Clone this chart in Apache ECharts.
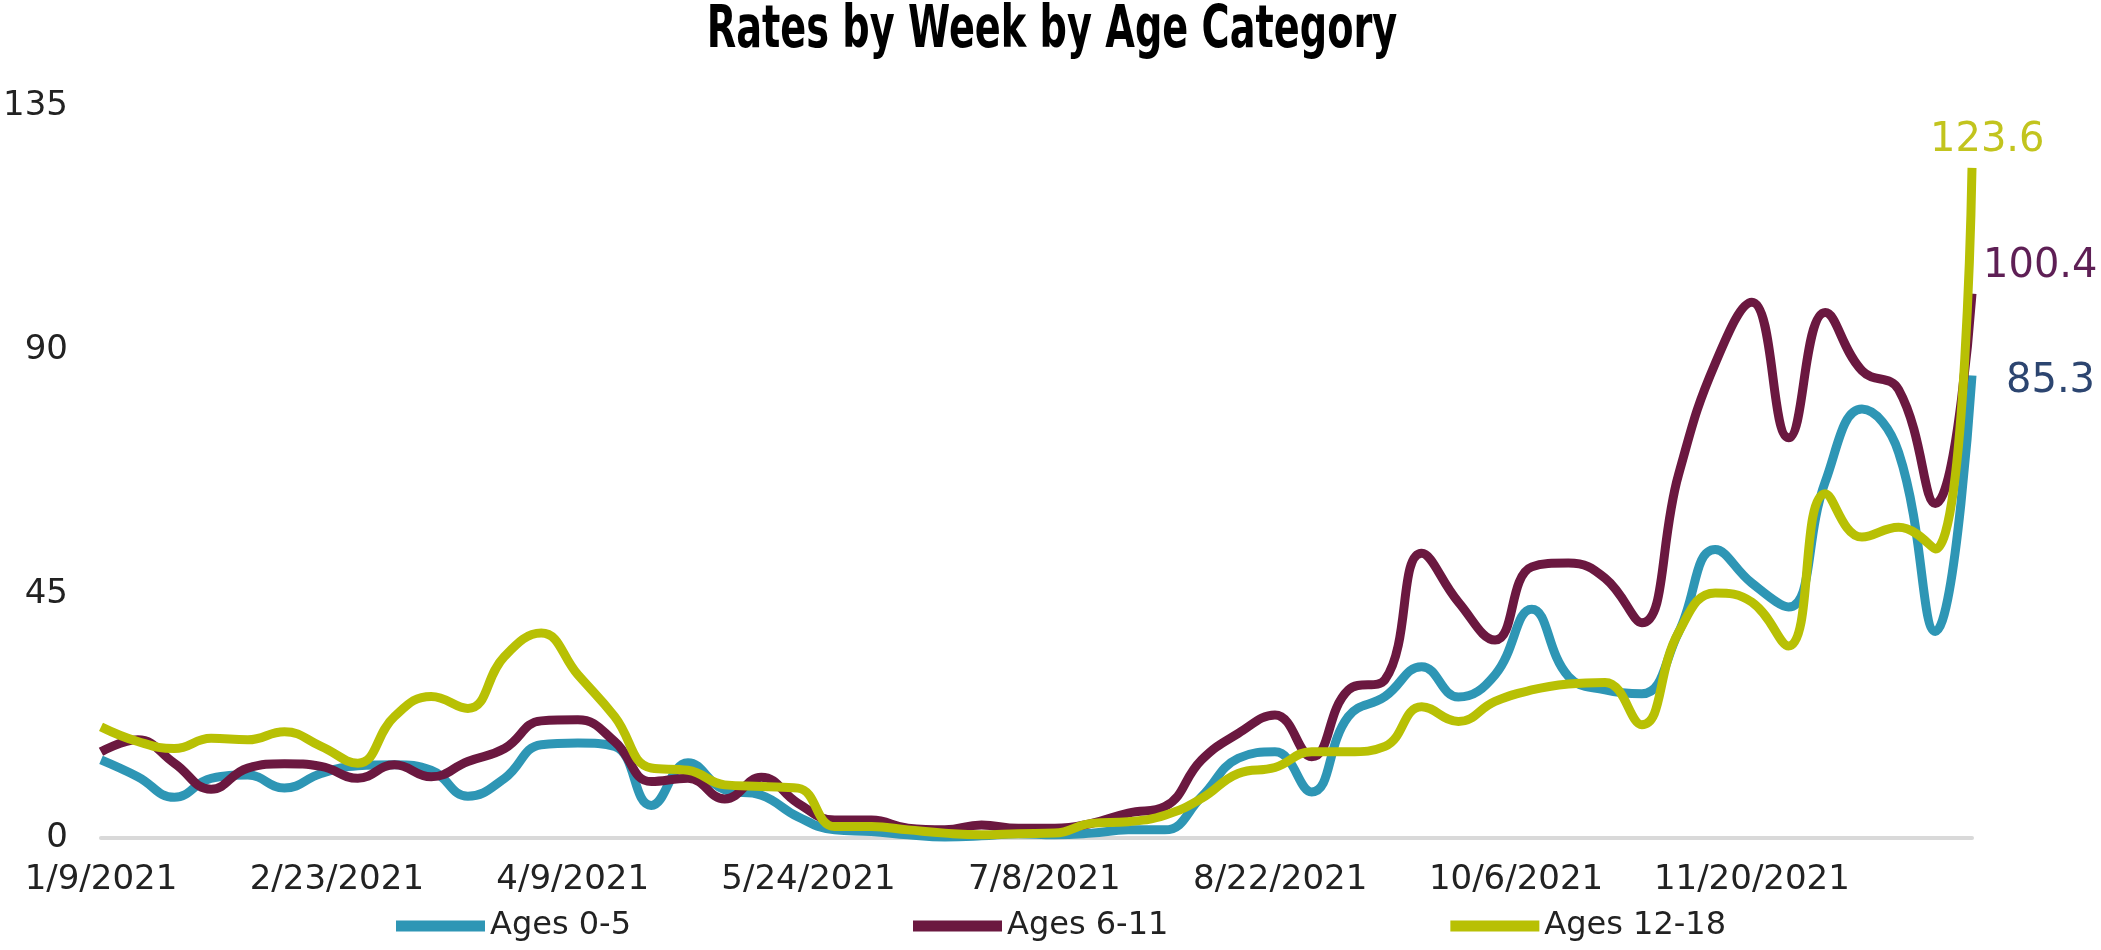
<!DOCTYPE html>
<html>
<head>
    <meta charset="utf-8">
    <title>Rates by Week by Age Category</title>
    <script src="https://cdn.jsdelivr.net/npm/echarts/dist/echarts.min.js"></script>
    <style>
        html, body { margin: 0; padding: 0; background: #fff; }
        #chart_box { width: 2101px; height: 950px; }
    </style>
</head>
<body>
    <div id="chart_box"></div>
    <script>
        // week ending dates
        var weekDates = ['1/9/2021', '1/16/2021', '1/23/2021', '1/30/2021', '2/6/2021', '2/13/2021', '2/20/2021',
            '2/27/2021', '3/6/2021', '3/13/2021', '3/20/2021', '3/27/2021', '4/3/2021', '4/10/2021', '4/17/2021',
            '4/24/2021', '5/1/2021', '5/8/2021', '5/15/2021', '5/22/2021', '5/29/2021', '6/5/2021', '6/12/2021',
            '6/19/2021', '6/26/2021', '7/3/2021', '7/10/2021', '7/17/2021', '7/24/2021', '7/31/2021', '8/7/2021',
            '8/14/2021', '8/21/2021', '8/28/2021', '9/4/2021', '9/11/2021', '9/18/2021', '9/25/2021', '10/2/2021',
            '10/9/2021', '10/16/2021', '10/23/2021', '10/30/2021', '11/6/2021', '11/13/2021', '11/20/2021',
            '11/27/2021', '12/4/2021', '12/11/2021', '12/18/2021', '12/25/2021', '1/1/2022'];

        var ages0to5 = [14.4, 11.3, 7.5, 11.0, 11.6, 9.2, 11.9, 13.3, 13.5, 12.5, 7.7, 11.0, 17.2, 17.5, 16.9, 6.0,
            13.9, 8.9, 7.9, 3.9, 1.5, 1.2, 0.6, 0.2, 0.4, 0.8, 0.6, 0.9, 1.5, 1.5, 7.6, 14.7, 15.9, 8.5, 22.4, 26.1,
            31.6, 26.0, 30.1, 42.2, 29.8, 27.3, 26.6, 37.9, 53.2, 47.0, 42.6, 65.7, 79.1, 71.1, 38.1, 85.3];
        var ages6to11 = [15.9, 18.1, 13.8, 9.0, 12.9, 13.7, 13.2, 11.0, 13.5, 11.3, 14.1, 16.5, 21.6, 21.8, 17.8, 10.4,
            11.0, 7.2, 11.2, 6.4, 3.3, 3.3, 1.8, 1.5, 2.4, 1.8, 1.8, 2.7, 4.6, 5.8, 14.4, 19.3, 22.7, 15.0, 27.3, 29.2,
            52.5, 43.5, 36.5, 50.0, 50.7, 47.9, 39.7, 67.0, 87.5, 98.8, 73.8, 96.9, 86.2, 82.7, 61.7, 100.4];
        var ages12to18 = [20.5, 17.8, 16.5, 18.4, 18.1, 19.6, 16.9, 13.8, 22.4, 26.1, 23.9, 33.5, 37.8, 30.1, 22.4, 12.9,
            12.5, 9.8, 9.5, 9.2, 2.1, 2.1, 1.5, 0.9, 0.6, 0.8, 0.9, 2.7, 3.0, 4.2, 7.3, 11.9, 13.0, 15.9, 15.9, 16.9,
            24.2, 21.5, 25.2, 27.3, 28.4, 28.7, 20.9, 37.9, 45.2, 43.5, 35.4, 63.5, 55.5, 57.3, 53.3, 123.6];

        var xTickLabels = ['1/9/2021', '2/23/2021', '4/9/2021', '5/24/2021', '7/8/2021', '8/22/2021', '10/6/2021', '11/20/2021'];
        var yTicks = [0, 45, 90, 135];

        var seriesNames = ['Ages 0-5', 'Ages 6-11', 'Ages 12-18'];
        var lineColors = ['#2E96B5', '#6B1840', '#B8C004'];
        var endLabelColors = ['#2C4570', '#5E1F55', '#C2C41E'];
        var endLabelOffsets = [[34, 6], [11, -27], [-42, -27]];

        function parseDay(s) {
            var p = s.split('/');
            return new Date(+p[2], +p[0] - 1, +p[1]);
        }
        var start = parseDay(weekDates[0]);
        var dayNums = weekDates.map(function (s) {
            return Math.round((parseDay(s) - start) / 86400000);
        });
        var lastDay = dayNums[dayNums.length - 1];

        function buildData(vals, idx) {
            return vals.map(function (v, i) {
                if (i < vals.length - 1) return [dayNums[i], v];
                return {
                    value: [dayNums[i], v],
                    label: {
                        show: true,
                        position: 'right',
                        distance: 0,
                        offset: endLabelOffsets[idx],
                        color: endLabelColors[idx],
                        fontFamily: 'DejaVu Sans',
                        fontSize: 40,
                        formatter: function (p) { return p.value[1].toFixed(1); }
                    }
                };
            });
        }

        var myChart = echarts.init(document.getElementById('chart_box'));
        var allVals = [ages0to5, ages6to11, ages12to18];

        var option = {
            animation: false,
            backgroundColor: '#fff',
            // title drawn as graphic text so it can be squeezed like the narrow original font
            graphic: [{
                type: 'text',
                x: 1052,
                y: 3,
                scaleX: 0.66,
                style: {
                    text: 'Rates by Week by Age Category',
                    x: 0,
                    y: 0,
                    align: 'center',
                    verticalAlign: 'top',
                    font: 'bold 58px "DejaVu Sans"',
                    fill: '#000'
                }
            }],
            grid: {
                left: 101,
                right: 129,
                top: 106,
                bottom: 112
            },
            legend: {
                data: seriesNames,
                left: 391,
                top: 905,
                icon: 'rect',
                itemWidth: 89,
                itemHeight: 11,
                itemGap: 282,
                textStyle: {
                    fontFamily: 'DejaVu Sans',
                    fontSize: 32,
                    color: '#222'
                }
            },
            xAxis: {
                type: 'value',
                min: 0,
                max: lastDay,
                interval: 45,
                splitLine: { show: false },
                axisTick: { show: false },
                axisLine: { show: true, lineStyle: { color: '#d9d9d9', width: 4 } },
                axisLabel: {
                    margin: 25,
                    fontFamily: 'DejaVu Sans',
                    fontSize: 34,
                    color: '#222',
                    showMaxLabel: false,
                    formatter: function (v) {
                        var i = Math.round(v / 45);
                        return xTickLabels[i] || '';
                    }
                }
            },
            yAxis: {
                type: 'value',
                min: yTicks[0],
                max: yTicks[yTicks.length - 1],
                interval: 45,
                splitLine: { show: false },
                axisLine: { show: false },
                axisTick: { show: false },
                axisLabel: {
                    margin: 33,
                    fontFamily: 'DejaVu Sans',
                    fontSize: 34,
                    color: '#222'
                }
            },
            series: seriesNames.map(function (name, idx) {
                return {
                    name: name,
                    type: 'line',
                    smooth: 0.45,
                    symbol: 'circle',
                    symbolSize: 0,
                    showSymbol: true,
                    clip: false,
                    color: lineColors[idx],
                    lineStyle: { width: 9, color: lineColors[idx] },
                    itemStyle: { color: lineColors[idx] },
                    data: buildData(allVals[idx], idx)
                };
            })
        };
        myChart.setOption(option);
    </script>
</body>
</html>
